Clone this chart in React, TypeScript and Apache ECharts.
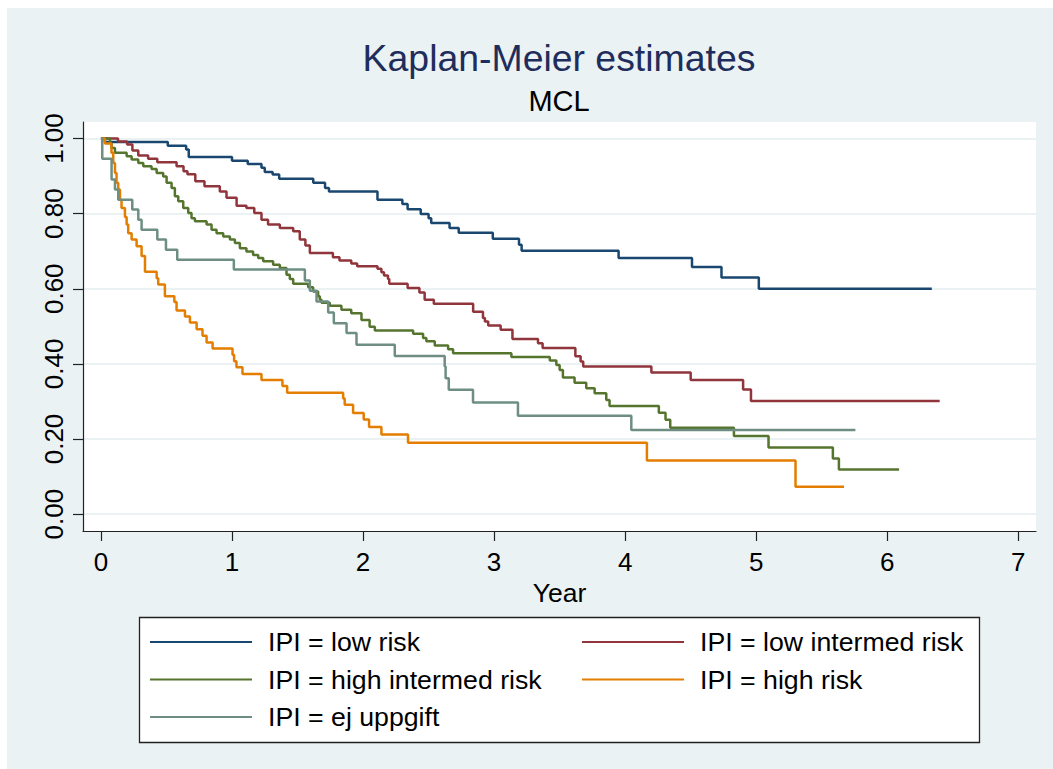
import { useEffect, useRef } from 'react';
import * as echarts from 'echarts';

const groupNames = [
  'IPI = low risk',
  'IPI = low intermed risk',
  'IPI = high intermed risk',
  'IPI = high risk',
  'IPI = ej uppgift',
];
const groupColors = ['#1a476f', '#90353b', '#55752f', '#e37e00', '#6e8e84'];

const xTicks = [0, 1, 2, 3, 4, 5, 6, 7];
const yTicks = [0, 0.2, 0.4, 0.6, 0.8, 1];

// survival times (years) and Kaplan-Meier estimates
const lowRiskTime = [0, 0.03, 0.51, 0.65, 0.67, 1.0, 1.12, 1.225, 1.25, 1.31, 1.36, 1.62, 1.71, 1.74, 2.11, 2.3, 2.34, 2.44, 2.5, 2.52, 2.66, 2.73, 2.99, 3.19, 3.21, 3.95, 4.51, 4.735, 5.02, 6.34];
const lowRiskSurv = [1, 0.991, 0.981, 0.971, 0.951, 0.941, 0.932, 0.922, 0.911, 0.904, 0.893, 0.882, 0.868, 0.859, 0.837, 0.826, 0.812, 0.799, 0.788, 0.775, 0.762, 0.749, 0.733, 0.717, 0.701, 0.682, 0.658, 0.63, 0.6, 0.6];

const lowIntTime = [0, 0.13, 0.2, 0.24, 0.285, 0.36, 0.43, 0.577, 0.63, 0.66, 0.72, 0.79, 0.907, 0.958, 1.035, 1.11, 1.17, 1.225, 1.275, 1.365, 1.467, 1.517, 1.56, 1.594, 1.77, 1.82, 1.91, 1.955, 2.11, 2.14, 2.16, 2.19, 2.2, 2.34, 2.43, 2.47, 2.54, 2.84, 2.915, 2.93, 2.955, 3.05, 3.14, 3.335, 3.37, 3.62, 3.66, 3.68, 4.2, 4.5, 4.9, 4.96, 6.4];
const lowIntSurv = [1, 0.992, 0.984, 0.968, 0.955, 0.946, 0.937, 0.926, 0.913, 0.905, 0.886, 0.873, 0.859, 0.842, 0.821, 0.815, 0.802, 0.784, 0.771, 0.762, 0.753, 0.731, 0.715, 0.695, 0.684, 0.675, 0.667, 0.66, 0.653, 0.644, 0.635, 0.626, 0.613, 0.602, 0.59, 0.571, 0.56, 0.539, 0.522, 0.513, 0.502, 0.491, 0.466, 0.455, 0.442, 0.42, 0.406, 0.393, 0.377, 0.357, 0.332, 0.301, 0.301];

const highIntTime = [0, 0.069, 0.081, 0.107, 0.196, 0.234, 0.285, 0.323, 0.386, 0.425, 0.475, 0.501, 0.539, 0.564, 0.59, 0.628, 0.666, 0.691, 0.717, 0.806, 0.844, 0.882, 0.933, 0.984, 1.022, 1.06, 1.11, 1.161, 1.2, 1.238, 1.314, 1.365, 1.416, 1.441, 1.467, 1.581, 1.619, 1.657, 1.67, 1.683, 1.746, 1.835, 1.91, 1.988, 2.05, 2.09, 2.382, 2.458, 2.483, 2.547, 2.649, 2.687, 3.132, 3.425, 3.475, 3.5, 3.525, 3.614, 3.703, 3.767, 3.856, 3.881, 4.257, 4.308, 4.344, 4.83, 5.094, 5.585, 5.631, 6.09];
const highIntSurv = [1, 0.988, 0.975, 0.962, 0.953, 0.944, 0.935, 0.926, 0.919, 0.908, 0.899, 0.882, 0.868, 0.846, 0.833, 0.815, 0.802, 0.788, 0.78, 0.771, 0.757, 0.748, 0.739, 0.731, 0.722, 0.708, 0.699, 0.69, 0.682, 0.673, 0.664, 0.655, 0.637, 0.626, 0.613, 0.604, 0.593, 0.58, 0.571, 0.563, 0.555, 0.544, 0.535, 0.517, 0.499, 0.489, 0.48, 0.469, 0.46, 0.449, 0.439, 0.428, 0.418, 0.409, 0.397, 0.384, 0.364, 0.35, 0.335, 0.322, 0.304, 0.288, 0.27, 0.251, 0.23, 0.208, 0.177, 0.148, 0.119, 0.119];

const highRiskTime = [0, 0.03, 0.08, 0.094, 0.107, 0.119, 0.132, 0.145, 0.157, 0.183, 0.196, 0.208, 0.234, 0.272, 0.31, 0.336, 0.425, 0.437, 0.488, 0.56, 0.577, 0.641, 0.679, 0.73, 0.775, 0.806, 0.852, 1.004, 1.016, 1.034, 1.08, 1.225, 1.385, 1.421, 1.848, 1.86, 1.924, 2.005, 2.046, 2.14, 2.343, 4.166, 5.3, 5.67];
const highRiskSurv = [1, 0.987, 0.962, 0.935, 0.908, 0.882, 0.864, 0.837, 0.815, 0.791, 0.771, 0.748, 0.731, 0.713, 0.687, 0.645, 0.628, 0.611, 0.58, 0.565, 0.542, 0.526, 0.51, 0.492, 0.475, 0.457, 0.441, 0.424, 0.407, 0.391, 0.373, 0.357, 0.341, 0.323, 0.308, 0.291, 0.269, 0.252, 0.232, 0.212, 0.19, 0.143, 0.073, 0.073];

const unknownTime = [0, 0.01, 0.081, 0.107, 0.132, 0.239, 0.285, 0.31, 0.43, 0.496, 0.582, 1.014, 1.556, 1.594, 1.645, 1.734, 1.777, 1.874, 1.95, 2.242, 2.623, 2.63, 2.654, 2.839, 3.182, 4.047, 5.757];
const unknownSurv = [1, 0.946, 0.891, 0.864, 0.837, 0.811, 0.784, 0.757, 0.731, 0.704, 0.677, 0.651, 0.622, 0.595, 0.566, 0.537, 0.508, 0.482, 0.451, 0.421, 0.393, 0.362, 0.331, 0.297, 0.262, 0.224, 0.224];

const groupTimes = [lowRiskTime, lowIntTime, highIntTime, highRiskTime, unknownTime];
const groupSurv = [lowRiskSurv, lowIntSurv, highIntSurv, highRiskSurv, unknownSurv];

const FONT = "'Liberation Sans', Arial, sans-serif";

export default function App() {
  const chartRef = useRef<HTMLDivElement>(null);

  useEffect(() => {
    if (!chartRef.current) return;
    const chart = echarts.init(chartRef.current, null, { renderer: 'svg' });

    const legendText = { fontSize: 26.7, color: '#000', fontFamily: FONT, lineHeight: 30, padding: [0, 0, 0, 11] };
    const legendBase = {
      orient: 'vertical',
      top: 619,
      padding: 0,
      itemGap: 7.5,
      itemWidth: 102,
      itemHeight: 2,
      icon: 'rect',
      selectedMode: false,
      textStyle: legendText,
    };

    chart.setOption({
      animation: false,
      backgroundColor: '#eaf2f3',
      textStyle: { fontFamily: FONT },
      graphic: [
        {
          type: 'text',
          x: 552,
          y: 31,
          style: { text: 'Kaplan-Meier estimates', fontSize: 37.4, fontFamily: FONT, fill: '#1f2d5c', align: 'center', verticalAlign: 'top' },
        },
        {
          type: 'text',
          x: 552,
          y: 78,
          style: { text: 'MCL', fontSize: 29, fontFamily: FONT, fill: '#000', align: 'center', verticalAlign: 'top' },
        },
        {
          type: 'rect',
          z: -1,
          shape: { x: 132.5, y: 609.5, width: 840, height: 125 },
          style: { fill: '#fff', stroke: '#222', lineWidth: 1.3 },
        },
      ],
      legend: [
        { ...legendBase, left: 143, data: [groupNames[0], groupNames[2], groupNames[4]] },
        { ...legendBase, left: 575, data: [groupNames[1], groupNames[3]] },
      ],
      grid: {
        left: 76,
        top: 114,
        right: 17,
        bottom: 238,
        show: true,
        backgroundColor: '#fff',
        borderWidth: 0,
        containLabel: false,
        outerBoundsMode: 'none',
      },
      xAxis: {
        type: 'value',
        min: -0.137,
        max: 7.135,
        name: 'Year',
        nameLocation: 'middle',
        nameGap: 41,
        nameTextStyle: { fontSize: 26.5, color: '#000', fontFamily: FONT },
        axisLine: { show: true, onZero: false, lineStyle: { color: '#222', width: 1.2 } },
        axisTick: { show: true, length: 10, customValues: xTicks, lineStyle: { color: '#222', width: 1.2 } },
        axisLabel: { customValues: xTicks, margin: 18, fontSize: 26, color: '#000', fontFamily: FONT },
        splitLine: { show: false },
      },
      yAxis: {
        type: 'value',
        min: -0.045,
        max: 1.044,
        axisLine: { show: true, onZero: false, lineStyle: { color: '#222', width: 1.2 } },
        axisTick: { show: true, length: 10, customValues: yTicks, lineStyle: { color: '#222', width: 1.2 } },
        axisLabel: {
          customValues: yTicks,
          rotate: 90,
          margin: 16,
          fontSize: 26,
          color: '#000',
          fontFamily: FONT,
          formatter: (v: number) => v.toFixed(2),
        },
        splitLine: { show: true, lineStyle: { color: '#eaf2f3', width: 2 } },
      },
      series: groupNames.map((name, i) => ({
        name,
        type: 'line',
        step: 'end',
        showSymbol: false,
        symbol: 'none',
        color: groupColors[i],
        lineStyle: { color: groupColors[i], width: 2.5 },
        data: groupTimes[i].map((t, j) => [t, groupSurv[i][j]]),
      })),
    });

    return () => chart.dispose();
  }, []);

  return (
    <div
      ref={chartRef}
      style={{ position: 'fixed', left: 7, top: 8, width: 1046, height: 761, background: '#eaf2f3' }}
    />
  );
}
